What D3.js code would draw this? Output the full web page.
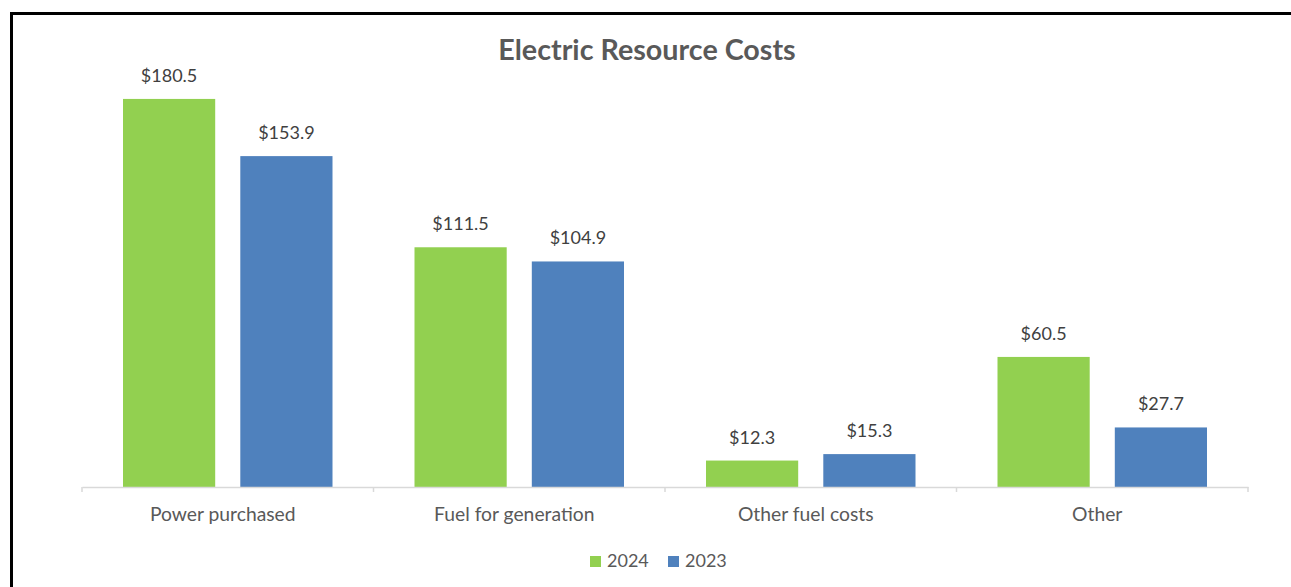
<!DOCTYPE html>
<html>
<head>
<meta charset="utf-8">
<script src="https://cdn.jsdelivr.net/npm/d3@7"></script>
<style>
  body { margin: 0; background: #fff; }
  svg { display: block; font-family: Lato, "Open Sans", sans-serif; }
</style>
</head>
<body>
<div class="chart"></div>
<script>
var width = 1291, height = 587;

var categories = ["Power purchased", "Fuel for generation", "Other fuel costs", "Other"];
var seriesNames = ["2024", "2023"];
var values2024 = [180.5, 111.5, 12.3, 60.5];
var values2023 = [153.9, 104.9, 15.3, 27.7];
var colors = ["#92d050", "#4f81bd"];

var svg = d3.select(".chart").append("svg")
  .attr("width", width)
  .attr("height", height);

svg.append("rect")
  .attr("width", "100%")
  .attr("height", "100%")
  .attr("fill", "#fff");

// frame, runs off the right and bottom edges
svg.append("rect")
  .attr("x", 11.5).attr("y", 13.5)
  .attr("width", 1300).attr("height", 600)
  .attr("fill", "none")
  .attr("stroke", "#000")
  .attr("stroke-width", 3);

var x0 = d3.scaleBand().domain(categories).range([82, 1248]);
var x1 = d3.scaleBand().domain(seriesNames).range([41, x0.bandwidth() - 41]).paddingInner(0.214);
var y = d3.scaleLinear().domain([0, 200]).range([487, 57]);

svg.append("text")
  .attr("x", 647).attr("y", 60)
  .attr("text-anchor", "middle")
  .attr("font-size", 28.7).attr("font-weight", "bold")
  .attr("fill", "#595959")
  .text("Electric Resource Costs");

var rows = categories.map(function (c, i) {
  return [{ cat: c, key: "2024", v: values2024[i] }, { cat: c, key: "2023", v: values2023[i] }];
});

var groups = svg.selectAll("g.cat")
  .data(rows)
  .enter().append("g")
  .attr("class", "cat")
  .attr("transform", function (d) { return "translate(" + x0(d[0].cat) + ",0)"; });

groups.selectAll("rect")
  .data(function (d) { return d; })
  .enter().append("rect")
  .attr("x", function (d) { return x1(d.key); })
  .attr("y", function (d) { return y(d.v); })
  .attr("width", x1.bandwidth())
  .attr("height", function (d) { return y(0) - y(d.v); })
  .attr("fill", function (d, i) { return colors[i]; });

groups.selectAll("text")
  .data(function (d) { return d; })
  .enter().append("text")
  .attr("x", function (d) { return x1(d.key) + x1.bandwidth() / 2; })
  .attr("y", function (d) { return y(d.v) - 17; })
  .attr("text-anchor", "middle")
  .attr("font-size", 18)
  .attr("fill", "#404040")
  .text(function (d) { return "$" + d.v.toFixed(1); });

// category axis
var axis = svg.append("g")
  .attr("transform", "translate(0," + y(0) + ")")
  .call(d3.axisBottom(x0).tickSize(0).tickPadding(20));
axis.select(".domain").attr("stroke", "#d9d9d9").attr("stroke-width", 1.5);
axis.selectAll("text")
  .attr("font-family", "Lato, 'Open Sans', sans-serif")
  .attr("font-size", 19.3)
  .attr("dx", -5)
  .attr("fill", "#595959");

var bounds = categories.map(function (c) { return x0(c); }).concat([x0.range()[1]]);
svg.selectAll("line.sep")
  .data(bounds)
  .enter().append("line")
  .attr("class", "sep")
  .attr("x1", function (d) { return d; }).attr("x2", function (d) { return d; })
  .attr("y1", y(0)).attr("y2", y(0) + 5)
  .attr("stroke", "#d9d9d9").attr("stroke-width", 1.5);

// legend
var legendX = [590, 668];
var legend = svg.selectAll("g.legend")
  .data(seriesNames)
  .enter().append("g")
  .attr("class", "legend")
  .attr("transform", function (d, i) { return "translate(" + legendX[i] + ",556)"; });
legend.append("rect")
  .attr("width", 11).attr("height", 11)
  .attr("fill", function (d, i) { return colors[i]; });
legend.append("text")
  .attr("x", 17).attr("y", 11)
  .attr("font-size", 18)
  .attr("fill", "#595959")
  .text(function (d) { return d; });
</script>
</body>
</html>
